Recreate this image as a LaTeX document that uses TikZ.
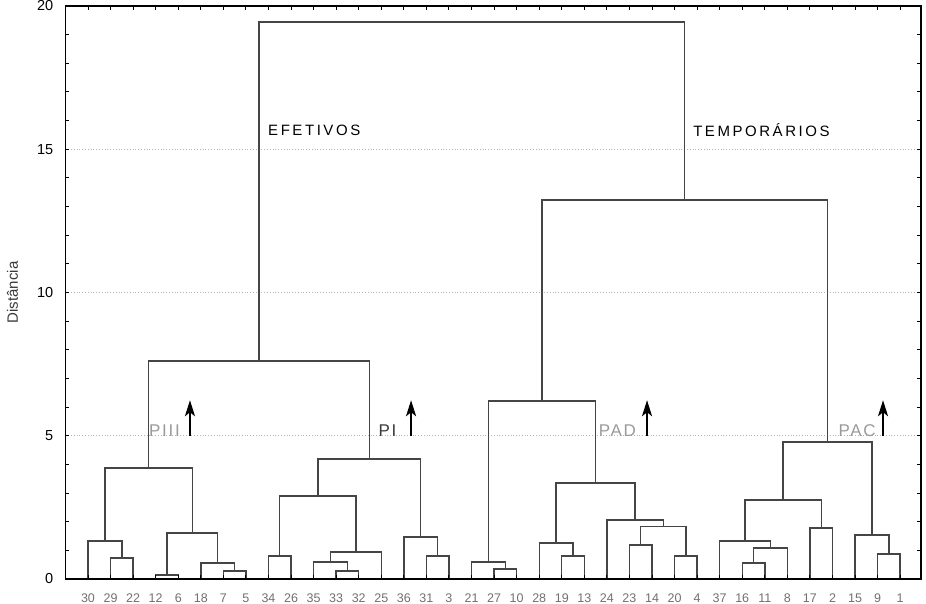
\documentclass[tikz,border=0pt]{standalone}
\usepackage{fontspec}
\setmainfont{Liberation Sans}
\newfontfamily\spacedfont[LetterSpace=17]{Liberation Sans}
\newfontfamily\plabfont[LetterSpace=10]{Liberation Sans}
\usetikzlibrary{arrows.meta}
\definecolor{dline}{HTML}{454545}
\definecolor{gridc}{HTML}{B4B4B4}
\definecolor{leafc}{HTML}{707070}
\definecolor{plabel}{HTML}{9A9A9A}
\definecolor{pdark}{HTML}{3A3A3A}
\tikzset{
  dend/.style={draw=dline, line width=1.4pt},
  frame/.style={draw=black, line width=1.6pt},
  tickline/.style={draw=black, line width=1pt},
  gridline/.style={draw=gridc, line width=0.8pt, dotted},
  leaf/.style={text=leafc, inner sep=0pt, font=\fontsize{12.5}{14}\selectfont},
  ylab/.style={anchor=east, inner sep=0pt, font=\fontsize{14.5}{16}\selectfont},
  grouplab/.style={anchor=west, inner sep=0pt, font=\spacedfont\fontsize{15}{18}\selectfont},
  plab/.style={inner sep=0pt, font=\plabfont\fontsize{17}{19}\selectfont},
  uparrow/.style={draw=black, line width=2.2pt, -{Stealth[length=16pt,width=10pt,inset=4pt]}}
}
\begin{document}
\begin{tikzpicture}[x=22.56pt, y=28.65pt]
\useasboundingbox (-65.44pt,-25pt) rectangle (860.56pt,579pt);
% grid
\foreach \v in {5,10,15} {
  \coordinate (gL\v) at (0,\v);
  \coordinate (gR\v) at (37.92,\v);
  \draw[gridline] (gL\v) -- (gR\v);
}
% leaves
\foreach \i/\lab in {1/30,2/29,3/22,4/12,5/6,6/18,7/7,8/5,9/34,10/26,11/35,12/33,13/32,14/25,15/36,16/31,17/3,18/21,19/27,20/10,21/28,22/19,23/13,24/24,25/23,26/14,27/20,28/4,29/37,30/16,31/11,32/8,33/17,34/2,35/15,36/9,37/1} {
  \coordinate (l\i) at (\i,0);
  \node[leaf] (t\i) at (\i,-0.66) {\lab};
}
% clusters
\coordinate (A) at (2.5,0.73);
\coordinate (B) at (1.75,1.33);
\coordinate (C) at (4.5,0.14);
\coordinate (D) at (7.5,0.28);
\coordinate (E) at (6.75,0.56);
\coordinate (F) at (5.625,1.6);
\coordinate (PIII) at (3.6875,3.87);
\coordinate (G) at (9.5,0.8);
\coordinate (H) at (12.5,0.28);
\coordinate (I) at (11.75,0.6);
\coordinate (J) at (12.875,0.94);
\coordinate (K) at (11.1875,2.9);
\coordinate (L) at (16.5,0.8);
\coordinate (M) at (15.75,1.47);
\coordinate (PI) at (13.46875,4.19);
\coordinate (EF) at (8.578125,7.61);
\coordinate (N) at (19.5,0.35);
\coordinate (O) at (18.75,0.6);
\coordinate (P) at (22.5,0.8);
\coordinate (Q) at (21.75,1.26);
\coordinate (R) at (25.5,1.18);
\coordinate (S) at (27.5,0.8);
\coordinate (T) at (26.5,1.84);
\coordinate (U) at (25.25,2.06);
\coordinate (V) at (23.5,3.35);
\coordinate (PAD) at (21.125,6.21);
\coordinate (W) at (30.5,0.56);
\coordinate (X) at (31.25,1.08);
\coordinate (Y) at (30.125,1.33);
\coordinate (Z) at (33.5,1.78);
\coordinate (AA) at (31.8125,2.76);
\coordinate (BB) at (36.5,0.87);
\coordinate (CC) at (35.75,1.54);
\coordinate (PAC) at (33.78125,4.78);
\coordinate (TEMP) at (27.453125,13.23);
\coordinate (ROOT) at (18.015625,19.44);
% links
\draw[dend] (l2) |- (A) -| (l3);
\draw[dend] (l1) |- (B) -| (A);
\draw[dend] (l4) |- (C) -| (l5);
\draw[dend] (l7) |- (D) -| (l8);
\draw[dend] (l6) |- (E) -| (D);
\draw[dend] (C) |- (F) -| (E);
\draw[dend] (B) |- (PIII) -| (F);
\draw[dend] (l9) |- (G) -| (l10);
\draw[dend] (l12) |- (H) -| (l13);
\draw[dend] (l11) |- (I) -| (H);
\draw[dend] (I) |- (J) -| (l14);
\draw[dend] (G) |- (K) -| (J);
\draw[dend] (l16) |- (L) -| (l17);
\draw[dend] (l15) |- (M) -| (L);
\draw[dend] (K) |- (PI) -| (M);
\draw[dend] (PIII) |- (EF) -| (PI);
\draw[dend] (l19) |- (N) -| (l20);
\draw[dend] (l18) |- (O) -| (N);
\draw[dend] (l22) |- (P) -| (l23);
\draw[dend] (l21) |- (Q) -| (P);
\draw[dend] (l25) |- (R) -| (l26);
\draw[dend] (l27) |- (S) -| (l28);
\draw[dend] (R) |- (T) -| (S);
\draw[dend] (l24) |- (U) -| (T);
\draw[dend] (Q) |- (V) -| (U);
\draw[dend] (O) |- (PAD) -| (V);
\draw[dend] (l30) |- (W) -| (l31);
\draw[dend] (W) |- (X) -| (l32);
\draw[dend] (l29) |- (Y) -| (X);
\draw[dend] (l33) |- (Z) -| (l34);
\draw[dend] (Y) |- (AA) -| (Z);
\draw[dend] (l36) |- (BB) -| (l37);
\draw[dend] (l35) |- (CC) -| (BB);
\draw[dend] (AA) |- (PAC) -| (CC);
\draw[dend] (PAD) |- (TEMP) -| (PAC);
\draw[dend] (EF) |- (ROOT) -| (TEMP);
% frame and ticks
\coordinate (fBL) at (0,0);
\coordinate (fTR) at (37.92,20);
\draw[frame] (fBL) rectangle (fTR);
\foreach \v in {1,...,19} {
  \draw[tickline] (0,\v) -- ++(4pt,0);
  \draw[tickline] (37.92,\v) -- ++(-4pt,0);
}
\foreach \i in {1,...,37} {
  \draw[tickline] (\i,20) -- ++(0,-4pt);
  \draw[tickline] (\i,0) -- ++(0,4pt);
}
% y labels
\foreach \v in {0,5,10,15,20} {
  \node[ylab] (y\v) at ([xshift=-12pt]0,\v) {\v};
}
\node[rotate=90, inner sep=0pt, text=pdark, font=\fontsize{15}{17}\selectfont] (ytitle) at ([xshift=-53pt]0,10) {Distância};
% group labels
\node[grouplab] (lEF) at (8.98,15.67) {EFETIVOS};
\node[grouplab] (lTEMP) at (27.82,15.67) {TEMPORÁRIOS};
% cut arrows
\foreach \n/\x in {a/5.52,b/15.32,c/25.78,d/36.24} {
  \coordinate (\n s) at (\x,5);
  \coordinate (\n e) at (\x,6.24);
  \draw[uparrow] (\n s) -- (\n e);
}
\node[plab, text=plabel] (lPIII) at (4.39,5.17) {PIII};
\node[plab, text=pdark] (lPI) at (14.28,5.17) {PI};
\node[plab, text=plabel] (lPAD) at (24.47,5.17) {PAD};
\node[plab, text=plabel] (lPAC) at (35.09,5.17) {PAC};
\end{tikzpicture}
\end{document}
